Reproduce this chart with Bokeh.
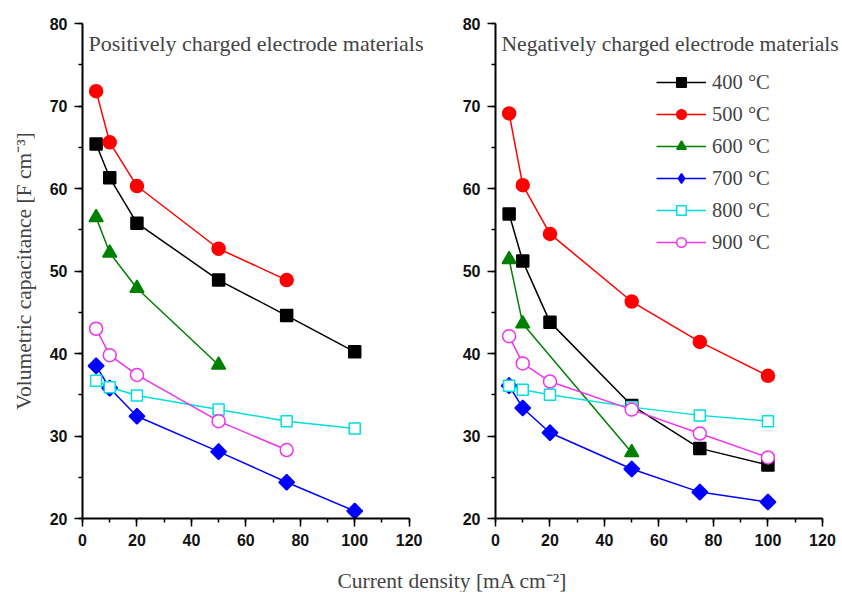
import math
from bokeh.plotting import figure
from bokeh.models import Label, Legend, LegendItem, SingleIntervalTicker
from bokeh.layouts import column, row
from bokeh.embed import file_html
from bokeh.resources import INLINE

# ---- data ----
series_names = ["400 °C", "500 °C", "600 °C", "700 °C", "800 °C", "900 °C"]
series_colors = ["#000000", "#ff0000", "#008000", "#0000ff", "#00dede", "#ee33ee"]
series_markers = ["square", "circle", "triangle", "square", "square", "circle"]
series_angles = [0, 0, 0, math.pi / 4, 0, 0]
series_fill = [True, True, True, True, False, False]
series_sizes = [12, 13, 14, 11, 11, 13]

# positively charged electrode materials
pos_x_400 = [5, 10, 20, 50, 75, 100]
pos_y_400 = [65.4, 61.3, 55.8, 48.9, 44.6, 40.2]
pos_x_500 = [5, 10, 20, 50, 75]
pos_y_500 = [71.8, 65.6, 60.3, 52.7, 48.9]
pos_x_600 = [5, 10, 20, 50]
pos_y_600 = [56.5, 52.2, 47.9, 38.6]
pos_x_700 = [5, 10, 20, 50, 75, 100]
pos_y_700 = [38.5, 35.8, 32.4, 28.1, 24.4, 20.9]
pos_x_800 = [5, 10, 20, 50, 75, 100]
pos_y_800 = [36.7, 35.9, 34.9, 33.2, 31.8, 30.9]
pos_x_900 = [5, 10, 20, 50, 75]
pos_y_900 = [43.0, 39.8, 37.4, 31.8, 28.3]

# negatively charged electrode materials
neg_x_400 = [5, 10, 20, 50, 75, 100]
neg_y_400 = [56.9, 51.2, 43.8, 33.7, 28.5, 26.5]
neg_x_500 = [5, 10, 20, 50, 75, 100]
neg_y_500 = [69.1, 60.4, 54.5, 46.3, 41.4, 37.3]
neg_x_600 = [5, 10, 50]
neg_y_600 = [51.4, 43.6, 28.0]
neg_x_700 = [5, 10, 20, 50, 75, 100]
neg_y_700 = [36.1, 33.4, 30.4, 26.0, 23.2, 22.0]
neg_x_800 = [5, 10, 20, 50, 75, 100]
neg_y_800 = [36.1, 35.6, 35.0, 33.5, 32.5, 31.8]
neg_x_900 = [5, 10, 20, 50, 75, 100]
neg_y_900 = [42.1, 38.8, 36.6, 33.2, 30.3, 27.4]

pos_data = [(pos_x_400, pos_y_400), (pos_x_500, pos_y_500), (pos_x_600, pos_y_600),
            (pos_x_700, pos_y_700), (pos_x_800, pos_y_800), (pos_x_900, pos_y_900)]
neg_data = [(neg_x_400, neg_y_400), (neg_x_500, neg_y_500), (neg_x_600, neg_y_600),
            (neg_x_700, neg_y_700), (neg_x_800, neg_y_800), (neg_x_900, neg_y_900)]

x_axis_bounds = (0, 120)
y_range_vals = (20, 80)
panel_titles = ["Positively charged electrode materials", "Negatively charged electrode materials"]
y_title = "Volumetric capacitance [F cm⁻³]"
x_title = "Current density [mA cm⁻²]"

SERIF = "Liberation Serif"
SANS = "Liberation Sans"


def make_panel(data, title, title_size, width, left, right, x_end, ylabel):
    p = figure(width=width, height=558, x_range=(0, x_end), y_range=y_range_vals,
               output_backend="svg", toolbar_location=None,
               min_border_left=left, min_border_right=right,
               min_border_top=23, min_border_bottom=40)
    p.outline_line_color = None
    p.xgrid.visible = False
    p.ygrid.visible = False
    p.xaxis.ticker = SingleIntervalTicker(interval=20, num_minor_ticks=2)
    p.yaxis.ticker = SingleIntervalTicker(interval=10, num_minor_ticks=2)
    p.xaxis.bounds = x_axis_bounds
    for ax in (p.xaxis[0], p.yaxis[0]):
        ax.axis_line_width = 2
        ax.major_tick_line_width = 1.5
        ax.minor_tick_line_width = 1.5
        ax.major_tick_in = 0
        ax.major_tick_out = 8
        ax.minor_tick_in = 0
        ax.minor_tick_out = 4
        ax.major_label_text_font = SANS
        ax.major_label_text_font_size = "16px"
        ax.major_label_text_font_style = "bold"
        ax.major_label_text_color = "#111111"
        ax.major_label_standoff = 7
    if ylabel:
        p.yaxis.axis_label = ylabel
        p.yaxis.axis_label_text_font = SERIF
        p.yaxis.axis_label_text_font_size = "21.5px"
        p.yaxis.axis_label_text_font_style = "normal"
        p.yaxis.axis_label_standoff = 11
    items = []
    for (xs, ys), name, col, mk, ang, filled, sz in zip(data, series_names, series_colors,
                                                        series_markers, series_angles,
                                                        series_fill, series_sizes):
        fill = col if filled else "white"
        lr = p.line(xs, ys, line_color=col, line_width=1.5)
        sr = p.scatter(xs, ys, marker=mk, size=sz, angle=ang, line_color=col, line_width=1.5,
                       fill_color=fill)
        if ang:
            # diamond drawn inside the rotated square; also gives the legend its swatch
            sr = p.scatter(xs, ys, marker="diamond", size=15, line_color=col,
                           line_width=1.5, fill_color=fill)
        items.append(LegendItem(label=name, renderers=[lr, sr]))
    p.add_layout(Label(x=6, y=475, x_units="screen", y_units="screen", text=title,
                       text_font=SERIF, text_font_size=title_size, text_baseline="middle",
                       text_align="left"))
    return p, items


p1, _ = make_panel(pos_data, panel_titles[0], "22px", 440, 82, 15, 126, y_title)
p2, items = make_panel(neg_data, panel_titles[1], "21.6px", 402, 55, 1, 127, None)

legend = Legend(items=items, location=(161, 264), border_line_color=None,
                background_fill_alpha=0, padding=0, margin=0, spacing=8,
                glyph_width=50, glyph_height=24, label_height=24,
                label_standoff=6, label_text_font=SERIF, label_text_font_size="20.5px")
p2.add_layout(legend, "center")

pt = figure(width=842, height=34, x_range=(0, 1), y_range=(0, 1), output_backend="svg",
            toolbar_location=None, min_border=0)
pt.outline_line_color = None
pt.axis.visible = False
pt.grid.visible = False
pt.add_layout(Label(x=452, y=12, x_units="screen", y_units="screen", text=x_title,
                    text_font=SERIF, text_font_size="21.5px", text_align="center",
                    text_baseline="middle"))

layout = column(row(p1, p2), pt)
open("out.html", "w").write(file_html(layout, INLINE))
